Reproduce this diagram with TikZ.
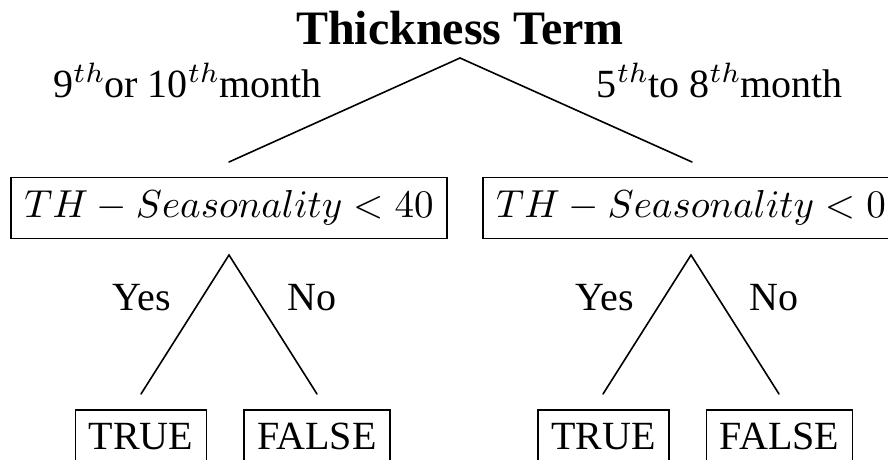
\documentclass[tikz,border=0pt]{standalone}
\usepackage[no-math]{fontspec}
\setmainfont{Liberation Serif}
% Computer Modern math fonts scaled freely: the script-size design below 30pt, the text design above
\DeclareFontShape{OML}{cmm}{m}{it}{<-30>cmmi7<30->cmmi10}{}
\DeclareFontShape{OMS}{cmsy}{m}{n}{<-30>cmsy7<30->cmsy10}{}
\DeclareFontShape{OT1}{cmr}{m}{n}{<-30>cmr7<30->cmr10}{}
\tikzset{
  txt/.style={font=\fontsize{40}{48}\selectfont},
  testbox/.style={font=\fontsize{39}{47}\selectfont, draw, line width=1.6pt, inner sep=13.3pt},
  leafbox/.style={txt, draw, line width=1.6pt, inner sep=13.3pt},
  edgelabel/.style={txt, inner sep=0pt, anchor=base},
  branch/.style={line width=1.6pt, line cap=round},
}
\begin{document}
\begin{tikzpicture}[x=1pt, y=-1pt]
\useasboundingbox (0,0) rectangle (888,460);

% root
\node[font=\fontsize{48}{56}\selectfont\bfseries, inner sep=0pt, anchor=base] (root) at (460,45) {Thickness Term};
\coordinate (rootfork) at (460,58);
\coordinate (lend) at (229,162);
\coordinate (rend) at (692,162);
\draw[branch] (lend) -- (rootfork) -- (rend);
\node[txt, inner sep=0pt, anchor=base west] (lbl910) at (53,97) {9$^{th}$or 10$^{th}$month};
\node[txt, inner sep=0pt, anchor=base east] (lbl58) at (843,97) {5$^{th}$to 8$^{th}$month};

% tests
\node[testbox] (testL) at (229,208) {$TH - Seasonality < 40$};
\node[testbox] (testR) at (691,208) {$TH - Seasonality < 0$};

% left subtree
\coordinate (lfork) at (229,255);
\coordinate (llyes) at (141,394);
\coordinate (llno) at (317,394);
\draw[branch] (llyes) -- (lfork) -- (llno);
\node[edgelabel] (lyes) at (141.5,310) {Yes};
\node[edgelabel] (lno) at (312,310) {No};
\node[leafbox] (ltrue) at (141,436.5) {TRUE};
\node[leafbox] (lfalse) at (317,436.5) {FALSE};

% right subtree
\coordinate (rfork) at (691,255);
\coordinate (rryes) at (603,394);
\coordinate (rrno) at (779,394);
\draw[branch] (rryes) -- (rfork) -- (rrno);
\node[edgelabel] (ryes) at (604.5,310) {Yes};
\node[edgelabel] (rno) at (774,310) {No};
\node[leafbox] (rtrue) at (603.5,436.5) {TRUE};
\node[leafbox] (rfalse) at (779.5,436.5) {FALSE};
\end{tikzpicture}
\end{document}
